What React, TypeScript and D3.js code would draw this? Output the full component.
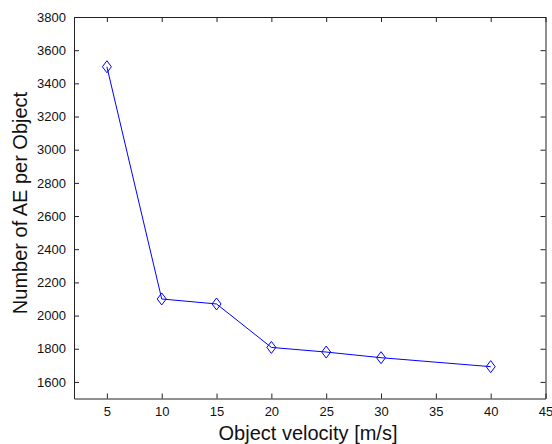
import React, { useRef, useEffect } from 'react';
import * as d3 from 'd3';

const velocity = [5, 10, 15, 20, 25, 30, 40];
const aePerObject = [3500, 2100, 2070, 1808, 1780, 1746, 1692];
const xTicks = [5, 10, 15, 20, 25, 30, 35, 40, 45];
const yTicks = [1600, 1800, 2000, 2200, 2400, 2600, 2800, 3000, 3200, 3400, 3600, 3800];

export default function App() {
  const ref = useRef<SVGSVGElement>(null);

  useEffect(() => {
    const width = 552;
    const height = 444;
    const margin = { top: 17, right: 6.5, bottom: 45.5, left: 74 };

    const svg = d3.select(ref.current);
    svg.selectAll('*').remove();
    svg.attr('width', width).attr('height', height);

    svg.append('rect').attr('width', width).attr('height', height).attr('fill', '#fff');

    const x = d3.scaleLinear().domain([2, 45]).range([margin.left, width - margin.right]);
    const y = d3.scaleLinear().domain([1500, 3800]).range([height - margin.bottom, margin.top]);

    const font = '"Liberation Sans", Arial, sans-serif';
    const tickLen = 5;

    // axes, MATLAB style: ticks inside on all four sides
    const axBottom = svg.append('g')
      .attr('transform', `translate(0,${y(1500)})`)
      .call(d3.axisBottom(x).tickValues(xTicks).tickSizeInner(-tickLen).tickSizeOuter(0).tickPadding(8).tickFormat(d3.format('d')));
    const axTop = svg.append('g')
      .attr('transform', `translate(0,${y(3800)})`)
      .call(d3.axisTop(x).tickValues(xTicks).tickSizeInner(-tickLen).tickSizeOuter(0).tickFormat(() => ''));
    const axLeft = svg.append('g')
      .attr('transform', `translate(${x(2)},0)`)
      .call(d3.axisLeft(y).tickValues(yTicks).tickSizeInner(-tickLen).tickSizeOuter(0).tickPadding(8).tickFormat(d3.format('d')));
    const axRight = svg.append('g')
      .attr('transform', `translate(${x(45)},0)`)
      .call(d3.axisRight(y).tickValues(yTicks).tickSizeInner(-tickLen).tickSizeOuter(0).tickFormat(() => ''));

    for (const a of [axBottom, axTop, axLeft, axRight]) {
      a.select('.domain').attr('stroke', '#222');
      a.selectAll('.tick line').attr('stroke', '#222');
      a.selectAll('.tick text')
        .attr('fill', '#111')
        .style('font-family', font)
        .style('font-size', '13px');
    }
    axBottom.selectAll('.tick text').attr('dy', '0.71em');

    // line
    const line = d3.line<number>()
      .x((_, i) => x(velocity[i]))
      .y(d => y(d));

    svg.append('path')
      .datum(aePerObject)
      .attr('d', line)
      .attr('fill', 'none')
      .attr('stroke', '#0000ff')
      .attr('stroke-width', 1);

    // diamond markers
    const hw = 4.5;
    const hh = 6;
    svg.selectAll('path.marker')
      .data(aePerObject)
      .enter()
      .append('path')
      .attr('class', 'marker')
      .attr('d', (d, i) => {
        const cx = x(velocity[i]);
        const cy = y(d);
        return `M${cx},${cy - hh}L${cx + hw},${cy}L${cx},${cy + hh}L${cx - hw},${cy}Z`;
      })
      .attr('fill', 'none')
      .attr('stroke', '#0000ff')
      .attr('stroke-width', 1);

    // axis labels
    svg.append('text')
      .attr('x', 308)
      .attr('y', 440)
      .attr('text-anchor', 'middle')
      .style('font-family', font)
      .style('font-size', '20px')
      .attr('fill', '#111')
      .text('Object velocity [m/s]');

    svg.append('text')
      .attr('transform', `translate(27,203) rotate(-90)`)
      .attr('text-anchor', 'middle')
      .style('font-family', font)
      .style('font-size', '20px')
      .attr('fill', '#111')
      .text('Number of AE per Object');
  }, []);

  return (
    <svg ref={ref} style={{ position: 'absolute', left: 0, top: 0, display: 'block' }}></svg>
  );
}
